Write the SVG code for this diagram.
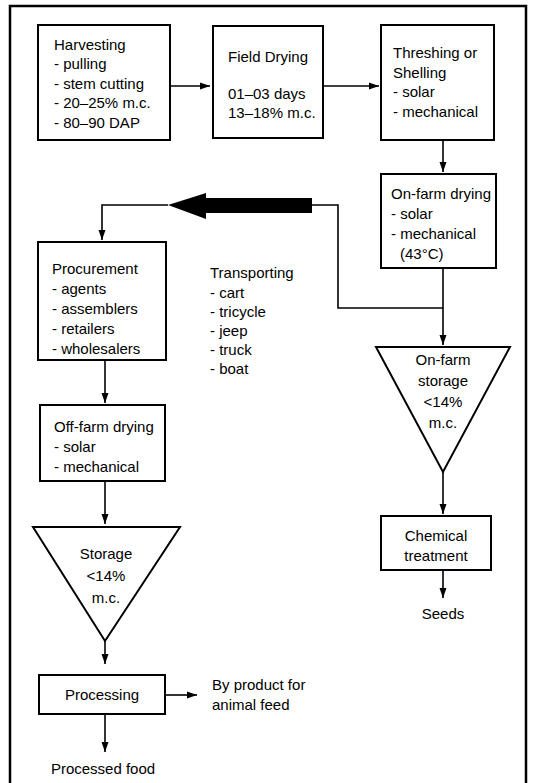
<svg xmlns="http://www.w3.org/2000/svg" width="537" height="783" viewBox="0 0 537 783">
  <style>
    .box { fill: #fff; stroke: #000; stroke-width: 2; }
    .frame { fill: #fff; stroke: #000; stroke-width: 2.5; }
    .t { font-family: "Liberation Sans", Arial, sans-serif; font-size: 15px; fill: #000; }
    .c { text-anchor: middle; }
    .link { fill: none; stroke: #000; stroke-width: 1.6; }
  </style>
  <defs>
    <marker id="head" viewBox="0 0 10 10" refX="10" refY="5" markerWidth="10" markerHeight="10" markerUnits="userSpaceOnUse" orient="auto">
      <path d="M0,1.5 L10,5 L0,8.5 Z" fill="#000"/>
    </marker>
  </defs>

  <!-- page frame, open at the bottom edge of the sheet -->
  <rect class="frame" x="10" y="6" width="516" height="800"/>

  <g id="harvesting">
    <rect class="box" x="38" y="25" width="132" height="115"/>
    <text class="t" x="54" y="50">Harvesting</text>
    <text class="t" x="54" y="69">- pulling</text>
    <text class="t" x="54" y="89">- stem cutting</text>
    <text class="t" x="54" y="108">- 20–25% m.c.</text>
    <text class="t" x="54" y="128">- 80–90 DAP</text>
  </g>

  <g id="field-drying">
    <rect class="box" x="213" y="26" width="110" height="112"/>
    <text class="t" x="228" y="62">Field Drying</text>
    <text class="t" x="228" y="99">01–03 days</text>
    <text class="t" x="228" y="118">13–18% m.c.</text>
  </g>

  <g id="threshing">
    <rect class="box" x="381" y="25" width="113" height="115"/>
    <text class="t" x="393" y="58">Threshing or</text>
    <text class="t" x="393" y="78">Shelling</text>
    <text class="t" x="393" y="97">- solar</text>
    <text class="t" x="393" y="117">- mechanical</text>
  </g>

  <g id="on-farm-drying">
    <rect class="box" x="381" y="174" width="115" height="94"/>
    <text class="t" x="391" y="199">On-farm drying</text>
    <text class="t" x="391" y="219">- solar</text>
    <text class="t" x="391" y="239">- mechanical</text>
    <text class="t" x="400" y="259">(43°C)</text>
  </g>

  <g id="on-farm-storage">
    <polygon class="box" points="376,347 510,347 443,472"/>
    <text class="t c" x="443" y="365">On-farm</text>
    <text class="t c" x="443" y="386">storage</text>
    <text class="t c" x="443" y="407">&lt;14%</text>
    <text class="t c" x="443" y="428">m.c.</text>
  </g>

  <g id="chemical-treatment">
    <rect class="box" x="381" y="516" width="110" height="54"/>
    <text class="t c" x="436" y="541">Chemical</text>
    <text class="t c" x="436" y="561">treatment</text>
  </g>

  <g id="seeds">
    <text class="t c" x="443" y="619">Seeds</text>
  </g>

  <g id="procurement">
    <rect class="box" x="38" y="242" width="128" height="118"/>
    <text class="t" x="52" y="274">Procurement</text>
    <text class="t" x="52" y="294">- agents</text>
    <text class="t" x="52" y="314">- assemblers</text>
    <text class="t" x="52" y="334">- retailers</text>
    <text class="t" x="52" y="354">- wholesalers</text>
  </g>

  <g id="transporting">
    <text class="t" x="210" y="278">Transporting</text>
    <text class="t" x="210" y="298">- cart</text>
    <text class="t" x="210" y="317">- tricycle</text>
    <text class="t" x="210" y="336">- jeep</text>
    <text class="t" x="210" y="355">- truck</text>
    <text class="t" x="210" y="374">- boat</text>
  </g>

  <g id="off-farm-drying">
    <rect class="box" x="40" y="405" width="125" height="76"/>
    <text class="t" x="54" y="432">Off-farm drying</text>
    <text class="t" x="54" y="452">- solar</text>
    <text class="t" x="54" y="472">- mechanical</text>
  </g>

  <g id="storage">
    <polygon class="box" points="33,527 180,527 105,641"/>
    <text class="t c" x="106" y="559">Storage</text>
    <text class="t c" x="106" y="581">&lt;14%</text>
    <text class="t c" x="106" y="603">m.c.</text>
  </g>

  <g id="processing">
    <rect class="box" x="39" y="675" width="126" height="39"/>
    <text class="t c" x="102" y="700">Processing</text>
  </g>

  <g id="by-product">
    <text class="t" x="212" y="690">By product for</text>
    <text class="t" x="212" y="710">animal feed</text>
  </g>

  <g id="processed-food">
    <text class="t c" x="103" y="774">Processed food</text>
  </g>

  <g id="connectors">
    <line class="link" x1="170" y1="86" x2="210" y2="86" marker-end="url(#head)"/>
    <line class="link" x1="323" y1="86" x2="379" y2="86" marker-end="url(#head)"/>
    <line class="link" x1="443" y1="140" x2="443" y2="172" marker-end="url(#head)"/>
    <line class="link" x1="443" y1="268" x2="443" y2="345" marker-end="url(#head)"/>
    <polyline class="link" points="443,308 338,308 338,205 311,205"/>
    <!-- heavy transport arrow -->
    <rect x="204" y="198" width="108" height="15" fill="#000"/>
    <polygon points="168,205 206,193 206,219" fill="#000"/>
    <polyline class="link" points="168,205 102,205 102,240" marker-end="url(#head)"/>
    <line class="link" x1="443" y1="472" x2="443" y2="514" marker-end="url(#head)"/>
    <line class="link" x1="443" y1="570" x2="443" y2="598" marker-end="url(#head)"/>
    <line class="link" x1="105" y1="360" x2="105" y2="403" marker-end="url(#head)"/>
    <line class="link" x1="105" y1="481" x2="105" y2="524" marker-end="url(#head)"/>
    <line class="link" x1="105" y1="641" x2="105" y2="664" marker-end="url(#head)"/>
    <line class="link" x1="165" y1="695" x2="197" y2="695" marker-end="url(#head)"/>
    <line class="link" x1="105" y1="714" x2="105" y2="752" marker-end="url(#head)"/>
  </g>
</svg>
